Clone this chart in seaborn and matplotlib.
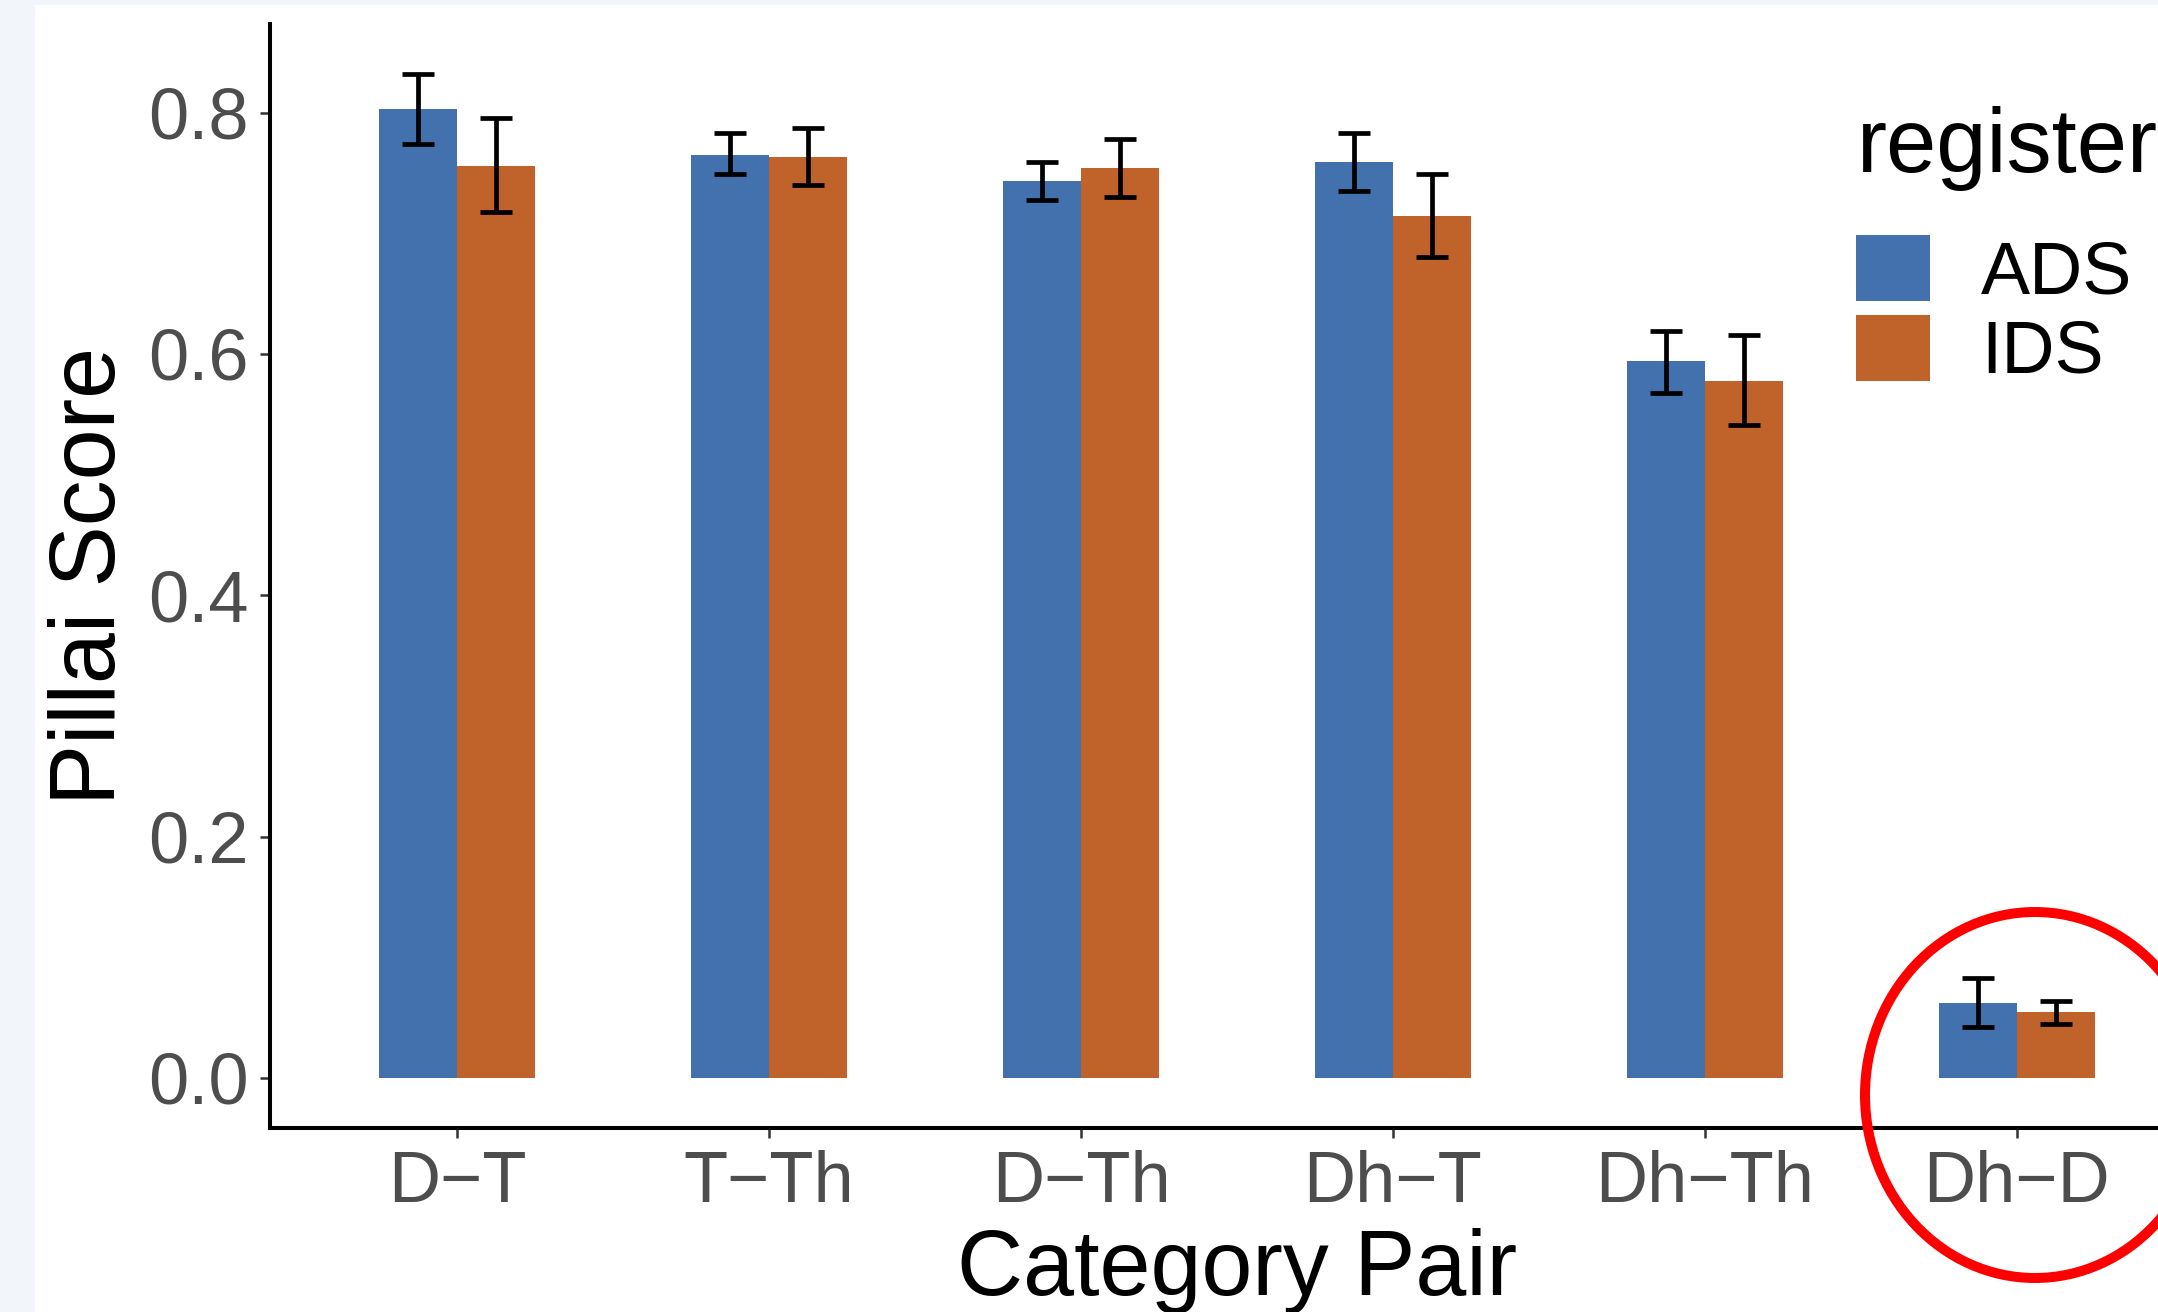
import matplotlib
matplotlib.use("Agg")
import matplotlib.pyplot as plt
from matplotlib.patches import Rectangle, Ellipse, Patch
import seaborn as sns
import pandas as pd
import numpy as np

# ---- data ----
categories = ["D−T", "T−Th", "D−Th", "Dh−T", "Dh−Th", "Dh−D"]
registers = ["ADS", "IDS"]
ads_mean = [0.803, 0.765, 0.743, 0.759, 0.594, 0.062]
ads_low = [0.774, 0.749, 0.728, 0.735, 0.568, 0.042]
ads_high = [0.832, 0.783, 0.759, 0.783, 0.619, 0.083]
ids_mean = [0.756, 0.763, 0.754, 0.714, 0.578, 0.055]
ids_low = [0.718, 0.740, 0.730, 0.680, 0.541, 0.045]
ids_high = [0.796, 0.787, 0.778, 0.749, 0.616, 0.064]
yticks = [0.0, 0.2, 0.4, 0.6, 0.8]

palette = {"ADS": "#4271AE", "IDS": "#C0632A"}

df = pd.DataFrame({
    "pair": categories * 2,
    "register": ["ADS"] * len(categories) + ["IDS"] * len(categories),
    "score": ads_mean + ids_mean,
    "low": ads_low + ids_low,
    "high": ads_high + ids_high,
})

W, H = 2158, 1312
DPI = 100
sns.set_theme(style="white")
plt.rcParams["font.family"] = ["Liberation Sans", "DejaVu Sans"]

fig = plt.figure(figsize=(W / DPI, H / DPI), dpi=DPI)
fig.patch.set_facecolor("#F2F5FA")
# white slide area
fig.patches.append(Rectangle((35 / W, 0), 1 - 35 / W, 1 - 5 / H, transform=fig.transFigure,
                             facecolor="white", edgecolor="none", zorder=-5))

ax_left, ax_right = 270 / W, 2204 / W
ax_top, ax_bot = 1 - 24 / H, 1 - 1128 / H
ax = fig.add_axes([ax_left, ax_bot, ax_right - ax_left, ax_top - ax_bot])
ax.set_facecolor("none")

sns.barplot(data=df, x="pair", y="score", hue="register", order=categories,
            hue_order=registers, palette=palette, width=0.5, gap=0,
            errorbar=None, saturation=1, ax=ax, legend=False, zorder=2,
            linewidth=0, edgecolor="none")

# error bars at bar centres
for container, reg in zip(ax.containers, registers):
    sub = df[df["register"] == reg].set_index("pair").loc[categories]
    xs = [p.get_x() + p.get_width() / 2 for p in container.patches]
    m = sub["score"].values
    yerr = np.vstack([m - sub["low"].values, sub["high"].values - m])
    ax.errorbar(xs, m, yerr=yerr, fmt="none", ecolor="black", elinewidth=3.4,
                capsize=11.5, capthick=3.4, zorder=3)

ax.set_xlim(-0.6, len(categories) - 0.4)
ax.set_ylim(-0.0415, 0.8735)
ax.set_yticks(yticks)
ax.set_yticklabels([f"{v:.1f}" for v in yticks])

for s in ["top", "right"]:
    ax.spines[s].set_visible(False)
for s in ["left", "bottom"]:
    ax.spines[s].set_linewidth(2.9)
    ax.spines[s].set_color("black")
    ax.spines[s].set_zorder(4)

ax.tick_params(axis="both", which="major", length=7.5, width=1.8, color="#333333",
               labelsize=52, labelcolor="#4D4D4D", left=True, bottom=True)
ax.tick_params(axis="y", pad=8)
ax.tick_params(axis="x", pad=8)
ax.grid(False)

ax.set_ylabel("Pillai Score", fontsize=66, color="black", labelpad=10)
ax.set_xlabel("Category Pair", fontsize=66, color="black", labelpad=8)

# legend (title drawn as separate text for exact spacing)
fig.text(1857 / W, 1 - 172 / H, "register", fontsize=65, color="black",
         ha="left", va="baseline")
handles = [Patch(facecolor=palette[r], edgecolor="none") for r in registers]
leg = ax.legend(handles, registers, loc="upper left",
                bbox_to_anchor=(1856 / W, 1 - 235 / H), bbox_transform=fig.transFigure,
                frameon=False, borderpad=0, borderaxespad=0, fontsize=53,
                handlelength=1.0, handleheight=1.0,
                handletextpad=0.7, labelspacing=0.09)
for t in leg.get_texts():
    t.set_color("black")

# red highlight circle
fig.patches.append(Ellipse((2035 / W, 1 - 1095 / H), 2 * 170 / W, 2 * 183 / H,
                           transform=fig.transFigure, fill=False, edgecolor="#FF0000",
                           linewidth=7.2, zorder=10))

fig.savefig("out.png", dpi=DPI, facecolor=fig.get_facecolor())
